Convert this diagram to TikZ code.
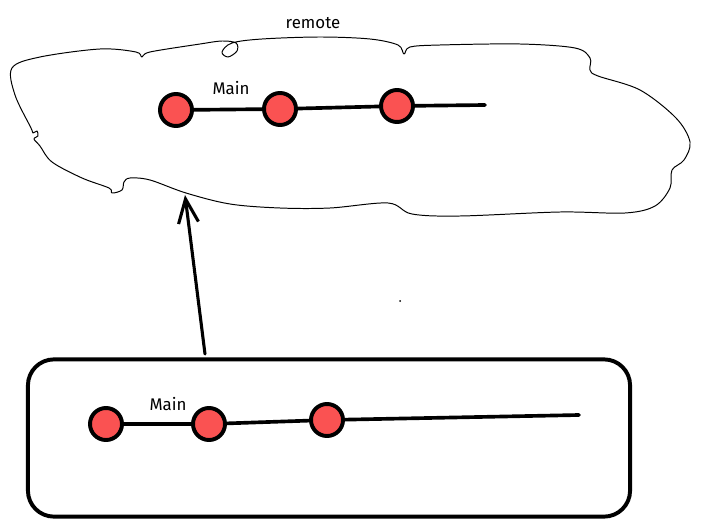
\documentclass[tikz,border=0pt]{standalone}
\usepackage{fontspec}
\setmainfont{Fira Sans}
\usetikzlibrary{arrows.meta}
\definecolor{commitred}{RGB}{250,82,82}
\tikzset{
  commit/.style={circle, draw=black, fill=commitred, line width=2.8pt,
                 minimum size=0.8cm, inner sep=0pt},
  branch/.style={line width=2.6pt, line cap=round},
  tag/.style={font=\fontsize{12}{14}\selectfont, inner sep=1pt},
  cloudline/.style={line width=0.7pt, line join=round},
  push/.style={line width=2.2pt, line cap=round,
               -{Straight Barb[length=0.6cm, width=0.5cm, line width=2.2pt]}},
}
\newcommand{\cloudpoints}{
    (12,68) (40,57) (100,49) (136,52) (142,57) (150,52) (200,44)
    (222,41) (236,43) (237,51) (228,57) (222,52) (232,43) (262,39)
    (320,37) (370,39) (398,45) (404,54) (410,47) (440,45) (520,44)
    (575,48) (590,58) (590,70) (598,76) (640,90) (676,118) (690,142)
    (684,160) (672,170) (670,188) (655,206) (625,213) (560,212)
    (460,216) (412,214) (388,203) (330,208) (280,208) (230,204)
    (186,193) (150,180) (130,178) (124,182) (122,190) (112,193)
    (109,188) (82,178) (52,162) (40,146) (34,139) (38,136) (37,131)
    (33,133) (31,128) (15,95)
}

\begin{document}
\begin{tikzpicture}[x=0.025cm, y=-0.025cm]
  \useasboundingbox (0,0) rectangle (703,525);

  % remote cloud
  \draw[cloudline] plot[smooth cycle, tension=0.55] coordinates {\cloudpoints};
  \node[tag] (remote) at (313,23) {remote};

  % commits on the remote
  \node[commit] (r1) at (176,110) {};
  \node[commit] (r2) at (280,109) {};
  \node[commit] (r3) at (397,106) {};
  \coordinate (rend) at (485,105);
  \draw[branch] (r1) -- (r2);
  \draw[branch] (r2) -- (r3);
  \draw[branch] (r3) -- (rend);
  \node[tag] (rmain) at (231,88) {Main};

  % local repository
  \node[draw, line width=2.8pt, rounded corners=0.65cm,
        minimum width=15.05cm, minimum height=3.93cm] (local) at (329,438) {};

  \node[commit] (l1) at (106,424) {};
  \node[commit] (l2) at (209,424) {};
  \node[commit] (l3) at (327,420) {};
  \coordinate (lend) at (579,415);
  \draw[branch] (l1) -- (l2);
  \draw[branch] (l2) -- (l3);
  \draw[branch] (l3) -- (lend);
  \node[tag] (lmain) at (168,404) {Main};

  % push
  \coordinate (pushfrom) at (205,354);
  \coordinate (pushto) at (185,195);
  \draw[push] (pushfrom) -- (pushto);

  \fill (400,301) circle (1);
\end{tikzpicture}
\end{document}
